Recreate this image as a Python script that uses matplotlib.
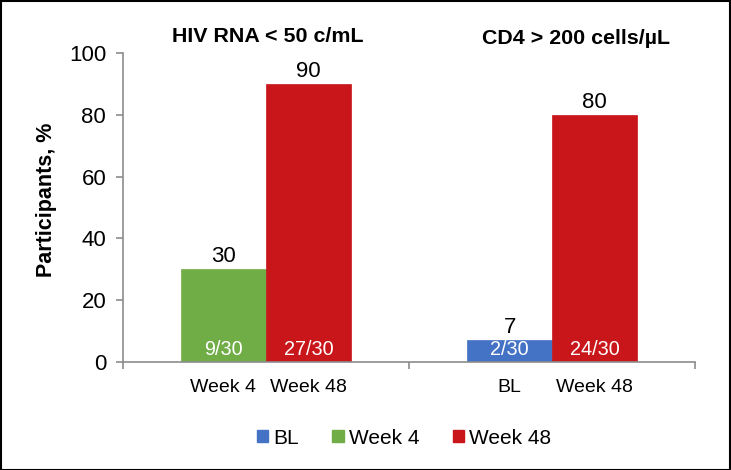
import matplotlib
matplotlib.use("Agg")
import matplotlib.pyplot as plt
from matplotlib.patches import Patch, Rectangle

plt.rcParams['font.family'] = ['Liberation Sans', 'DejaVu Sans']

groups = ["HIV RNA < 50 c/mL", "CD4 > 200 cells/\u00b5L"]
bar_labels = [["Week 4", "Week 48"], ["BL", "Week 48"]]
bar_values = [[30, 90], [7, 80]]
bar_fractions = [["9/30", "27/30"], ["2/30", "24/30"]]
legend_labels = ["BL", "Week 4", "Week 48"]
colors = {"BL": "#4472C4", "Week 4": "#70AD47", "Week 48": "#C9161A"}

fig = plt.figure(figsize=(7.31, 4.70), dpi=100)
ax = fig.add_axes([0.168, 0.230, 0.783, 0.657])

width = 0.297
minor_pos, minor_lab = [], []
for gi, (labs, vals, fracs) in enumerate(zip(bar_labels, bar_values, bar_fractions)):
    center = gi + 0.5
    n = len(labs)
    for bi, (lab, v, fr) in enumerate(zip(labs, vals, fracs)):
        x = center + (bi - (n - 1) / 2) * width
        ax.bar(x, v, width=width, color=colors[lab], edgecolor=colors[lab], linewidth=0.5)
        ax.annotate(str(v), (x, v), xytext=(0, 1.5), textcoords="offset points",
                    ha="center", va="bottom", fontsize=16)
        ax.annotate(fr, (x, 0), xytext=(0, 9), textcoords="offset points",
                    ha="center", va="center", fontsize=14.3, color="white")
        minor_pos.append(x)
        minor_lab.append(lab)

ax.set_xlim(0, 2)
ax.set_ylim(0, 100)
ax.set_yticks(range(0, 101, 20))
ax.set_xticks([0, 1, 2])
ax.set_xticklabels([])
ax.set_xticks(minor_pos, minor=True)
ax.set_xticklabels(minor_lab, minor=True, fontsize=14)
ax.tick_params(axis='x', which='major', length=5, color="#8c8c8c", width=1.2)
ax.tick_params(axis='x', which='minor', length=0, pad=12)
ax.tick_params(axis='y', length=5, color="#8c8c8c", width=1.2, labelsize=16, pad=7)
for s in ["top", "right"]:
    ax.spines[s].set_visible(False)
for s in ["left", "bottom"]:
    ax.spines[s].set_color("#8c8c8c")
    ax.spines[s].set_linewidth(1.2)
ax.set_ylabel("Participants, %", fontsize=15.5, fontweight="bold")
ax.yaxis.set_label_coords(57 / 731, 1 - 200 / 470, transform=fig.transFigure)

fig.text(268 / 731, 1 - 36 / 470, groups[0], ha="center", va="center",
         fontsize=15.4, fontweight="bold")
fig.text(576 / 731, 1 - 38 / 470, groups[1], ha="center", va="center",
         fontsize=15.4, fontweight="bold")

handles = [Patch(facecolor=colors[l], edgecolor=colors[l]) for l in legend_labels]
fig.legend(handles, legend_labels, loc="center", bbox_to_anchor=(404 / 731, 1 - 438 / 470),
           ncol=3, frameon=False, fontsize=15, handlelength=0.55, handleheight=0.55,
           handletextpad=0.25, columnspacing=1.6)

fig.patches.append(Rectangle((0.001, 0.001), 0.997, 0.997, transform=fig.transFigure,
                             fill=False, edgecolor="black", linewidth=1.5))

fig.savefig("out.png", dpi=100)
